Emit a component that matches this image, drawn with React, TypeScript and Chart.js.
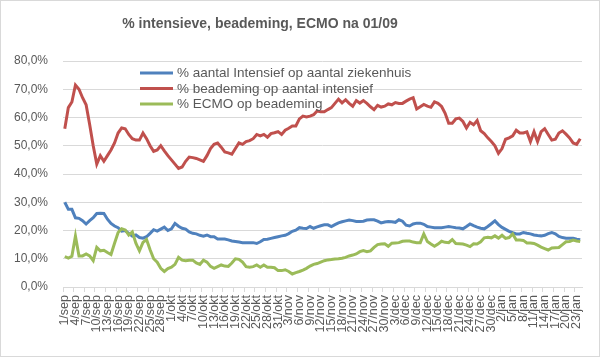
import React, { useEffect, useRef } from 'react';
import { Chart, registerables } from 'chart.js';

Chart.register(...registerables);

const TITLE = '% intensieve, beademing, ECMO na 01/09';

// Month names and number of days shown per month (1/sep .. 24/jan)
const MONTH_NAMES = ['sep', 'okt', 'nov', 'dec', 'jan'];
const MONTH_DAYS = [30, 31, 30, 31, 24];

const SERIES_LABELS = [
  '% aantal Intensief op aantal ziekenhuis',
  '% beademing op aantal intensief',
  '% ECMO op beademing',
];

const intensiefPct = [
  30, 27.5, 27.5, 24.5, 24.3, 23.5, 22.3, 23.5, 24.5, 26,
  26.1, 26, 24, 22.5, 21.6, 21, 19.8, 20, 19, 18,
  18.4, 17.5, 17.3, 17.8, 19, 20.3, 19.8, 20.5, 21.2, 20,
  20.6, 22.5, 21.5, 20.8, 20.5, 19.5, 19, 18.8, 18.3, 18,
  18.4, 17.8, 17.8, 17, 17, 17, 16.7, 16.3, 16.1, 15.9,
  15.7, 15.7, 15.7, 15.7, 15.4, 16, 16.8, 16.9, 17.2, 17.5,
  17.8, 18.1, 18.3, 18.9, 19.7, 20.1, 21, 20.8, 20.7, 21.4,
  20.8, 21.3, 21.7, 22, 22, 21.4, 22.1, 22.7, 23.1, 23.4,
  23.7, 23.5, 23.2, 23.2, 23.3, 23.7, 23.8, 23.8, 23.3, 22.7,
  23, 23.2, 23.1, 22.9, 23.8, 23.3, 21.9, 21.6, 22.3, 22.6,
  22.6, 22.2, 21.4, 21.2, 21, 21, 21, 21.2, 21.4, 21.2,
  21, 20.9, 20.6, 21.4, 22.3, 21.7, 21.2, 20.8, 20.6, 21.4,
  22.4, 23.4, 22.1, 21.1, 20.4, 19.7, 19.2, 18.8, 18.8, 19.3,
  19, 18.8, 18.4, 18.2, 18.1, 18.3, 18.9, 19.3, 18.8, 17.9,
  17.5, 17.3, 17.3, 17.3, 16.9, 16.7,
];

const beademingPct = [
  56, 63.5, 65.5, 71.5, 70, 67, 64.5, 57.5, 50, 43.5,
  46.5, 44.5, 46.5, 48.5, 51, 54.5, 56.3, 56, 54, 52.5,
  52, 52, 54.5, 52.5, 50, 48, 48.5, 50, 48.2, 46.5,
  45, 43.5, 42, 42.5, 44.5, 46, 45.8, 45.5, 45, 44.5,
  46.5, 49, 50.5, 51, 49.5, 47.8, 47.5, 47, 49, 51,
  50.5, 51.5, 51.8, 52.5, 54, 53.5, 54, 53, 54.3, 54.6,
  55, 54, 55.5, 56.2, 57, 57, 59.5, 60.5, 60.2, 60.5,
  61, 62.3, 62, 62, 62.8, 63.5, 65, 66.5, 65.2, 66.3,
  65, 64, 66, 65.1, 66, 65, 63.8, 62.8, 64.3, 63.7,
  64, 64.8, 64.5, 65.3, 65, 65, 65.8, 66.5, 67, 63,
  63.8, 64.6, 64, 63.6, 65.5, 65, 63.9, 61.5, 58, 58,
  59.5, 59.8, 58.6, 56.3, 58.3, 57.4, 58.9, 55.3, 54.3, 52.8,
  51.5, 50, 47.3, 49, 52.3, 52.8, 53.5, 55.5, 54.5, 54.5,
  54.9, 51.5, 55, 51.5, 55, 56, 54, 52, 52.3, 54.5,
  55.3, 54.1, 52.8, 51, 50.5, 52.5,
];

const ecmoPct = [
  10.8, 10.2, 10.9, 18, 11, 11, 11.7, 11, 9.3, 14,
  12.8, 13, 12.2, 11.5, 15.5, 19.3, 20.6, 20.2, 18.4, 19.5,
  15.5, 12.8, 15.8, 16.8, 13.2, 10, 8.8, 6.6, 5.5, 6.5,
  7, 8, 10.5, 9.5, 9.3, 9.5, 9.5, 8.5, 8, 9.5,
  8.8, 7.3, 6.6, 7.2, 7.8, 7.4, 7.3, 8.5, 10, 9.8,
  8.8, 7.2, 7, 7.2, 7.8, 7, 7.8, 7, 7, 6.8,
  5.8, 5.8, 6.1, 5.5, 4.6, 5.1, 5.5, 6, 6.6, 7.4,
  8, 8.3, 8.8, 9.3, 9.6, 9.7, 9.9, 10, 10.2, 10.5,
  11, 11.3, 11.7, 12.5, 12.9, 12.5, 12.8, 14, 15, 15.2,
  15.3, 14.4, 15.5, 15.6, 15.7, 16.2, 16.3, 16.3, 15.9, 15.7,
  15.7, 18.8, 16.1, 15.2, 14.4, 15.2, 16.2, 15.8, 15.7, 16.8,
  15.4, 15.3, 15.2, 14.8, 14.3, 15.3, 15.2, 16, 17.4, 17.6,
  17.4, 18.1, 17.3, 18.3, 17.2, 17.5, 18.8, 16.6, 16.6, 16.5,
  15.6, 15.6, 15.4, 14.8, 14.1, 13.6, 13.1, 13.8, 13.9, 14,
  15, 16, 16.1, 16.6, 16.3, 16.1,
];

const SERIES_COLORS = ['#4F81BD', '#C0504D', '#9BBB59'];

const dayLabels: string[] = [];
MONTH_NAMES.forEach((m, mi) => {
  for (let d = 1; d <= MONTH_DAYS[mi]; d++) dayLabels.push(`${d}/${m}`);
});

const FONT = '"Liberation Sans", Arial, sans-serif';
const TEXT = '#595959';
const GRID = '#D9D9D9';

const chromePlugin = {
  id: 'chrome',
  afterDraw(chart: any) {
    const ctx = chart.ctx;
    ctx.save();
    ctx.fillStyle = TEXT;
    ctx.font = `bold 14px ${FONT}`;
    ctx.textAlign = 'center';
    ctx.textBaseline = 'middle';
    ctx.fillText(TITLE, 260, 24);

    chart.data.datasets.forEach((ds: any, i: number) => {
      const y = 73 + i * 15.5;
      ctx.strokeStyle = ds.borderColor;
      ctx.lineWidth = 3;
      ctx.beginPath();
      ctx.moveTo(140, y);
      ctx.lineTo(173, y);
      ctx.stroke();
      ctx.fillStyle = TEXT;
      ctx.font = `13.5px ${FONT}`;
      ctx.textAlign = 'left';
      ctx.textBaseline = 'middle';
      ctx.fillText(ds.label, 177, y + 0.5);
    });

    ctx.strokeStyle = GRID;
    ctx.lineWidth = 1;
    ctx.strokeRect(0.5, 0.5, chart.width - 1, chart.height - 1);
    ctx.restore();
  },
};

export default function App() {
  const ref = useRef<HTMLCanvasElement>(null);

  useEffect(() => {
    if (!ref.current) return;
    const series = [intensiefPct, beademingPct, ecmoPct];
    const chart = new Chart(ref.current, {
      type: 'line',
      data: {
        labels: dayLabels,
        datasets: series.map((data, i) => ({
          label: SERIES_LABELS[i],
          data,
          borderColor: SERIES_COLORS[i],
          backgroundColor: SERIES_COLORS[i],
          borderWidth: 3,
          pointRadius: 0,
          tension: 0,
          fill: false,
          order: 2 - i,
        })),
      },
      options: {
        responsive: false,
        animation: false,
        layout: { padding: { top: 61, right: 18, left: 0, bottom: 0 } },
        plugins: {
          legend: { display: false },
          title: { display: false },
          tooltip: { enabled: false },
        },
        scales: {
          x: {
            offset: true,
            grid: {
              offset: true,
              drawOnChartArea: false,
              drawTicks: true,
              tickLength: 5,
              color: (c: any) =>
                c.index % 3 === 0 || c.index >= dayLabels.length ? GRID : 'rgba(0,0,0,0)',
            },
            border: { color: GRID },
            ticks: {
              autoSkip: false,
              maxRotation: 90,
              minRotation: 90,
              padding: 3,
              color: TEXT,
              font: { family: FONT, size: 12.5 },
              callback: (_v: any, i: number) => (i % 3 === 0 ? dayLabels[i] : ''),
            },
            afterFit: (s: any) => {
              s.height = 70;
            },
          },
          y: {
            min: 0,
            max: 80,
            grid: { color: GRID, drawTicks: false },
            border: { display: false },
            ticks: {
              stepSize: 10,
              padding: 15,
              color: TEXT,
              font: { family: FONT, size: 12 },
              callback: (v: any) => Number(v).toFixed(1).replace('.', ',') + '%',
            },
            afterFit: (s: any) => {
              s.width = 63;
            },
          },
        },
      },
      plugins: [chromePlugin],
    });
    return () => chart.destroy();
  }, []);

  return (
    <div style={{ position: 'fixed', left: 0, top: 0, width: 600, height: 357, background: '#fff' }}>
      <canvas ref={ref} width={600} height={357} style={{ display: 'block' }} />
    </div>
  );
}
